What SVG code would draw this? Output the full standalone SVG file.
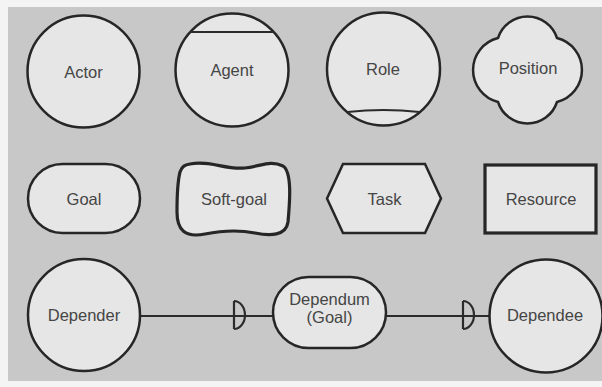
<svg xmlns="http://www.w3.org/2000/svg" width="602" height="387" viewBox="0 0 602 387">
  <style>
    .shape { fill: #e6e6e6; stroke: #262626; stroke-width: 2.5; }
    .thick { stroke-width: 3.2; }
    .edge { fill: none; stroke: #2b2b2b; stroke-width: 2.2; }
    .lbl { font-family: "Liberation Sans", Arial, sans-serif; font-size: 16.5px; fill: #454545; text-anchor: middle; }
  </style>
  <rect x="0" y="0" width="602" height="387" fill="#f4f4f4"/>
  <rect x="8" y="7" width="594" height="374" fill="#c8c8c8"/>

  <!-- row 1: actor kinds -->
  <g id="actor">
    <circle class="shape" cx="83.5" cy="71.5" r="56"/>
    <text class="lbl" x="83.5" y="78">Actor</text>
  </g>
  <g id="agent">
    <circle class="shape" cx="232" cy="70" r="56.5"/>
    <line class="edge" x1="190" y1="32" x2="274" y2="32" stroke-width="2.5"/>
    <text class="lbl" x="232" y="76">Agent</text>
  </g>
  <g id="role">
    <circle class="shape" cx="383.5" cy="69" r="56.5"/>
    <path class="edge" d="M 347.5 112 Q 383.5 108 419.5 112" stroke-width="2.5"/>
    <text class="lbl" x="383" y="75">Role</text>
  </g>
  <g id="position">
    <path class="shape" d="M 498 38 A 31 31 0 0 1 557 38 A 33 33 0 0 1 557 102 A 31 31 0 0 1 498 102 A 33 33 0 0 1 498 38 Z"/>
    <text class="lbl" x="528" y="74">Position</text>
  </g>

  <!-- row 2: intentional elements -->
  <g id="goal">
    <rect class="shape" x="28" y="164" width="112" height="69" rx="34.5"/>
    <text class="lbl" x="84" y="205">Goal</text>
  </g>
  <g id="softgoal">
    <path class="shape thick" d="M 190 164 C 210 160 225 170 245 168 C 262 166 270 160 283 166 C 292 172 290 200 288 222 C 286 236 270 236 255 233 C 240 230 225 230 205 234 C 185 238 177 230 177 212 C 177 195 178 180 180 172 C 182 166 185 165 190 164 Z"/>
    <text class="lbl" x="234" y="205">Soft-goal</text>
  </g>
  <g id="task">
    <polygon class="shape" points="343,164 425,164 441,198.5 425,233 343,233 327,198.5"/>
    <text class="lbl" x="384.5" y="205">Task</text>
  </g>
  <g id="resource">
    <rect class="shape thick" x="485" y="165" width="111" height="68"/>
    <text class="lbl" x="541" y="205">Resource</text>
  </g>

  <!-- row 3: dependency -->
  <g id="connectors">
    <line class="edge" x1="140" y1="316" x2="273" y2="316"/>
    <path class="edge" d="M 234 301 L 234 329 M 234 301 A 11 14 0 0 1 234 329" stroke-width="2.6"/>
    <line class="edge" x1="386" y1="316" x2="489.5" y2="316"/>
    <path class="edge" d="M 463 301 L 463 329 M 463 301 A 11 14 0 0 1 463 329" stroke-width="2.6"/>
  </g>
  <g id="depender">
    <circle class="shape" cx="84" cy="315" r="56"/>
    <text class="lbl" x="84" y="321">Depender</text>
  </g>
  <g id="dependum">
    <rect class="shape" x="273" y="277" width="113" height="71" rx="35.5"/>
    <text class="lbl" x="329.5" y="305">Dependum</text>
    <text class="lbl" x="329.5" y="323">(Goal)</text>
  </g>
  <g id="dependee">
    <circle class="shape" cx="546" cy="316" r="56.5"/>
    <text class="lbl" x="545" y="321">Dependee</text>
  </g>
</svg>
